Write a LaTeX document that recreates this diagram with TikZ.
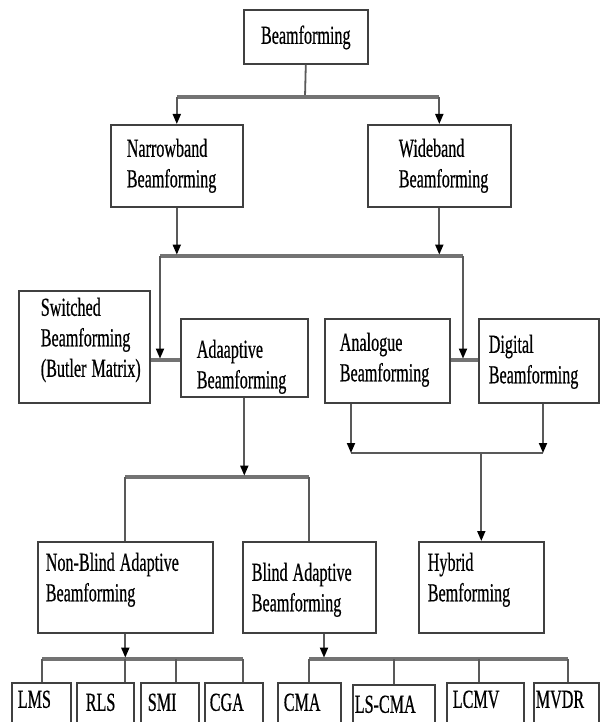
\documentclass[tikz,border=0pt]{standalone}
\usepackage{fontspec}
\setmainfont[FakeStretch=0.62,FakeBold=0.5]{Liberation Serif}
\usetikzlibrary{arrows.meta,shadows}
\newcommand\indentby[1]{\hspace*{#1pt}}
\newcommand\wsp{\hspace{5pt}}
\begin{document}
\begin{tikzpicture}[x=1pt,y=-1pt,
  bx/.style args={#1/#2/#3}{draw=black!75, line width=1.6pt, fill=white,
     anchor=north west, inner sep=0pt, align=left,
     text width=#1pt, minimum width=#1pt, text height=#2pt, text depth=#3pt,
     font=\fontsize{26}{30.5}\selectfont,
     drop shadow={shadow xshift=0pt, shadow yshift=-1.4pt, fill=black!55, opacity=1}},
  conn/.style={draw=black!65, line width=1.8pt},
  bar/.style={draw=black!55, line width=3.2pt},
  arr/.style={conn, -{Triangle[width=8pt,length=10pt,color=black]}}]
\useasboundingbox (0,0) rectangle (600,722);
\clip (0,0) rectangle (600,722);
\fill[white] (0,0) rectangle (600,722);

% boxes
\node[bx=124/34/20, align=center] (bf) at (243,9) {Beamforming};
\node[bx=132/32/50] (nb) at (110,124) {\indentby{16}Narrowband\\\indentby{16}Beamforming};
\node[bx=143/32/50] (wb) at (367,124) {\indentby{31}Wideband\\\indentby{31}Beamforming};
\node[bx=131/25/87] (sw) at (18,290) {\indentby{22}Switched\\\indentby{22}Beamforming\\\indentby{22}(Butler\wsp Matrix)};
\node[bx=127/39/39] (ad) at (180,318) {\indentby{16}Adaaptive\\\indentby{16}Beamforming};
\node[bx=125/32/52] (an) at (324,318) {\indentby{15}Analogue\\\indentby{15}Beamforming};
\node[bx=120/34/50] (dg) at (478,318) {\indentby{10}Digital\\\indentby{10}Beamforming};
\node[bx=175/29/62] (nbl) at (37,541) {\indentby{8}Non-Blind\wsp Adaptive\\\indentby{8}Beamforming};
\node[bx=133/39/52] (bl) at (242,541) {\indentby{9}Blind\wsp Adaptive\\\indentby{9}Beamforming};
\node[bx=125/29/62] (hy) at (418,541) {\indentby{9}Hybrid\\\indentby{9}Bemforming};

\node[bx=59/25/40] (lms) at (11,682) {\indentby{6}LMS};
\node[bx=57/28/40] (rls) at (76,682) {\indentby{9}RLS};
\node[bx=58/28/40] (smi) at (140,682) {\indentby{7}SMI};
\node[bx=58/28/40] (cga) at (204,682) {\indentby{5}CGA};
\node[bx=63/28/40] (cma) at (277,682) {\indentby{6}CMA};
\node[bx=82/28/40] (lscma) at (352,684) {\indentby{2}LS-CMA};
\node[bx=77/25/40] (lcmv) at (446,682) {\indentby{6}LCMV};
\node[bx=65/25/40] (mvdr) at (533,682) {\indentby{2}MVDR};

% level 1
\coordinate (j1) at (305,97);
\draw[conn] (bf.south) -- (j1);
\draw[bar] (nb.north |- j1) -- (wb.north |- j1);
\draw[arr] (nb.north |- j1) -- (nb.north);
\draw[arr] (wb.north |- j1) -- (wb.north);

% level 2
\coordinate (b2l) at (160,256);
\coordinate (b2r) at (463,256);
\draw[bar] (b2l) -- (b2r);
\draw[arr, shorten >=1.4pt] (nb.south) -- (nb.south |- b2l);
\draw[arr, shorten >=1.4pt] (wb.south) -- (wb.south |- b2l);
\coordinate (c3) at (160,360);
\coordinate (c4) at (463,360);
\draw[bar] (sw.east |- c3) -- (ad.west |- c3);
\draw[bar] (an.east |- c4) -- (dg.west |- c4);
\draw[arr, shorten >=1.4pt] (b2l) -- (c3);
\draw[arr, shorten >=1.4pt] (b2r) -- (c4);

% adaptive split
\coordinate (b4) at (243,477);
\draw[bar] (nbl.north |- b4) -- (bl.north |- b4);
\draw[conn] (nbl.north |- b4) -- (nbl.north);
\draw[conn] (bl.north |- b4) -- (bl.north);
\draw[arr, shorten >=1.4pt] (ad.south) -- (ad.south |- b4);

% analogue / digital to hybrid
\coordinate (b5l) at (351,453);
\coordinate (b5r) at (543,453);
\draw[conn] (b5l) -- (b5r);
\draw[arr] (b5l |- an.south) -- (b5l);
\draw[arr] (b5r |- dg.south) -- (b5r);
\draw[arr] (b5l -| hy.north) -- (hy.north);

% non-blind leaves
\coordinate (b6l) at (42,659);
\coordinate (b6r) at (243,659);
\coordinate (v3) at (176,659);
\draw[bar] (b6l) -- (b6r);
\draw[conn] (b6l) -- (b6l |- lms.north);
\draw[conn] (nbl.south |- b6l) -- (nbl.south |- rls.north);
\draw[conn] (v3) -- (v3 |- smi.north);
\draw[conn] (b6r) -- (b6r |- cga.north);
\draw[arr, shorten >=1.4pt] (nbl.south) -- (nbl.south |- b6l);

% blind leaves
\coordinate (b7) at (324,659);
\coordinate (b7r) at (568,659);
\coordinate (v7) at (479,659);
\draw[bar] (cma.north |- b7) -- (b7r);
\draw[conn] (cma.north |- b7) -- (cma.north);
\draw[conn] (lscma.north |- b7) -- (lscma.north);
\draw[conn] (v7) -- (v7 |- lcmv.north);
\draw[conn] (b7r) -- (b7r |- mvdr.north);
\draw[arr, shorten >=1.4pt] (b7 |- bl.south) -- (b7);
\end{tikzpicture}
\end{document}
